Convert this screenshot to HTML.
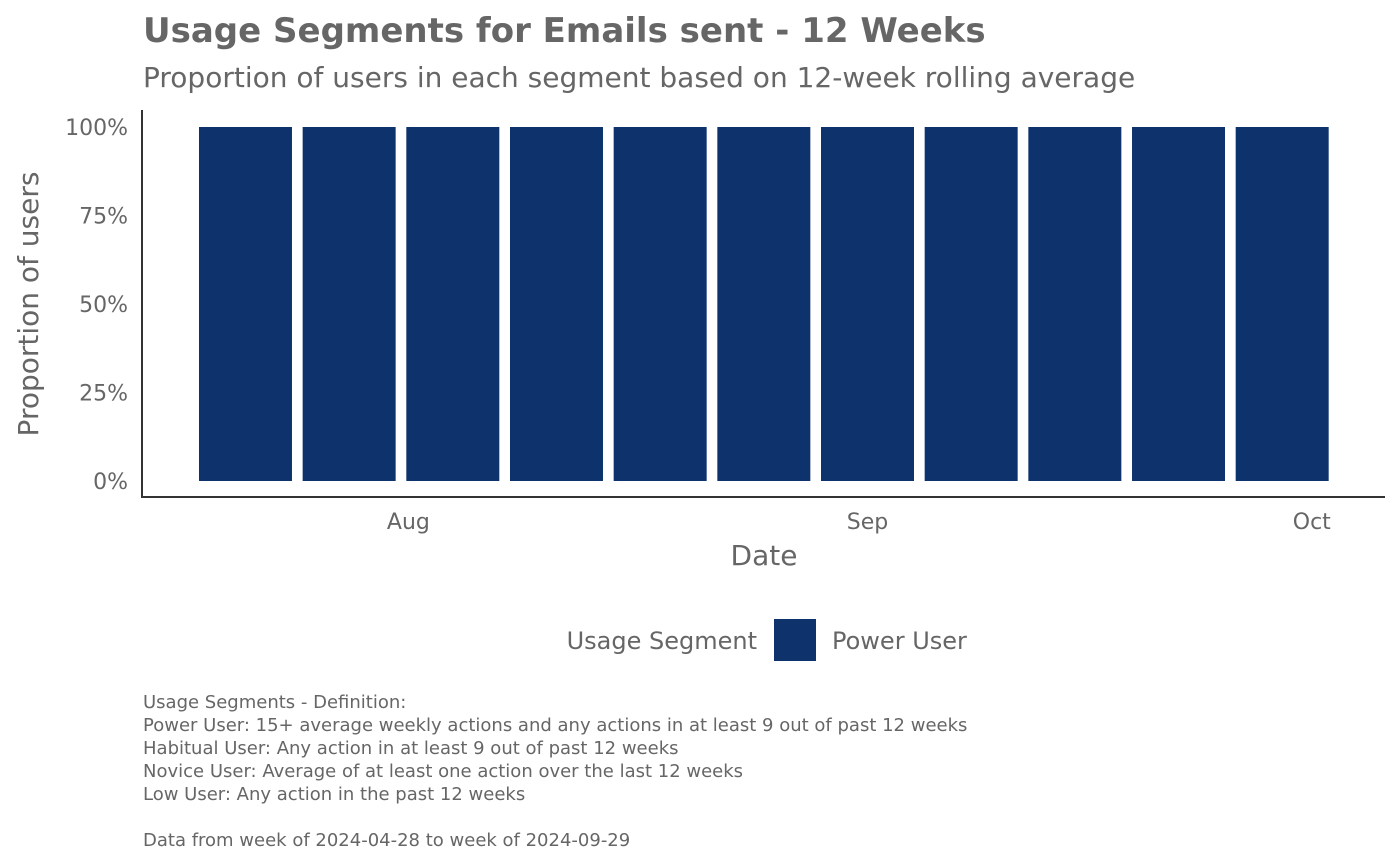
<!DOCTYPE html>
<html><head><meta charset="utf-8"><style>
html,body{margin:0;padding:0;background:#fff;}
svg{display:block;font-family:"DejaVu Sans","Liberation Sans",sans-serif;}
</style></head><body>
<svg id="chart" width="1400" height="866" viewBox="0 0 1400 866">
<text x="143" y="42" font-size="34" font-weight="bold" fill="#666">Usage Segments for Emails sent - 12 Weeks</text>
<text x="143" y="87" font-size="28" fill="#666">Proportion of users in each segment based on 12-week rolling average</text>
<g id="bars"></g>
<g id="yticks"></g>
<g id="xticks"></g>
<line x1="142" y1="110" x2="142" y2="498" stroke="#333" stroke-width="2"/>
<line x1="141" y1="497" x2="1385" y2="497" stroke="#333" stroke-width="2"/>
<text x="764" y="565" font-size="28" fill="#666" text-anchor="middle">Date</text>
<text transform="translate(38,304) rotate(-90)" font-size="28" fill="#666" text-anchor="middle">Proportion of users</text>
<g>
<text x="757" y="649" font-size="24" fill="#666" text-anchor="end">Usage Segment</text>
<rect x="774" y="619" width="42" height="42" fill="#0e326b"/>
<text x="832" y="649" font-size="24" fill="#666">Power User</text>
</g>
<g font-size="18" fill="#666">
<text x="143" y="708">Usage Segments - Definition:</text>
<text x="143" y="731">Power User: 15+ average weekly actions and any actions in at least 9 out of past 12 weeks</text>
<text x="143" y="754">Habitual User: Any action in at least 9 out of past 12 weeks</text>
<text x="143" y="777">Novice User: Average of at least one action over the last 12 weeks</text>
<text x="143" y="800">Low User: Any action in the past 12 weeks</text>
<text x="143" y="846">Data from week of 2024-04-28 to week of 2024-09-29</text>
</g>
</svg>
<script>
const weeks = ["2024-07-21","2024-07-28","2024-08-04","2024-08-11","2024-08-18","2024-08-25","2024-09-01","2024-09-08","2024-09-15","2024-09-22","2024-09-29"];
const powerUserShare = [1,1,1,1,1,1,1,1,1,1,1];
const yTickValues = [0,0.25,0.5,0.75,1];
const yTickLabels = ["0%","25%","50%","75%","100%"];
const xTickDates = ["2024-08-01","2024-09-01","2024-10-01"];
const xTickLabels = ["Aug","Sep","Oct"];

const NS="http://www.w3.org/2000/svg";
const DAY=86400000, ref=Date.parse("2024-09-01");
function xScale(d){return 867.5+(Date.parse(d)-ref)/DAY*14.81;}
function yScale(v){return 481-v*354;}
const barW=93;
const bars=document.getElementById('bars');
weeks.forEach((w,i)=>{
  const r=document.createElementNS(NS,'rect');
  const y=yScale(powerUserShare[i]);
  r.setAttribute('x',xScale(w)-barW/2);
  r.setAttribute('y',y);
  r.setAttribute('width',barW);
  r.setAttribute('height',yScale(0)-y);
  r.setAttribute('fill','#0e326b');
  
  
  bars.appendChild(r);
});
const yt=document.getElementById('yticks');
yTickValues.forEach((v,i)=>{
  const t=document.createElementNS(NS,'text');
  t.setAttribute('x',128);t.setAttribute('y',yScale(v)+8);
  t.setAttribute('font-size','22');t.setAttribute('fill','#666');t.setAttribute('text-anchor','end');
  t.textContent=yTickLabels[i];
  
  
  yt.appendChild(t);
});
const xt=document.getElementById('xticks');
xTickDates.forEach((d,i)=>{
  const t=document.createElementNS(NS,'text');
  t.setAttribute('x',xScale(d));t.setAttribute('y',529);
  t.setAttribute('font-size','22');t.setAttribute('fill','#666');t.setAttribute('text-anchor','middle');
  t.textContent=xTickLabels[i];
  
  
  xt.appendChild(t);
});
</script>
</body></html>
